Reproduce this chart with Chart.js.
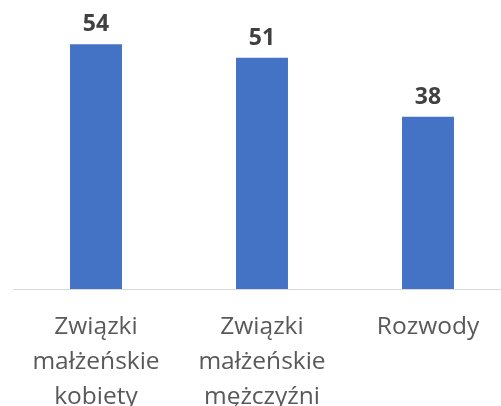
<!DOCTYPE html>
<html>
<head>
<meta charset="utf-8">
<script src="https://cdn.jsdelivr.net/npm/chart.js@4/dist/chart.umd.min.js"></script>
<style>
html,body{margin:0;padding:0;background:#fff;overflow:hidden;}
#wrap{position:relative;width:511px;height:406px;}
</style>
</head>
<body>
<div id="wrap"><canvas id="c" width="511" height="406"></canvas></div>
<script>
const categories = [
  ["Związki", "małżeńskie", "kobiety"],
  ["Związki", "małżeńskie", "mężczyźni"],
  ["Rozwody"]
];
const values = [54, 51, 38];

const labelPlugin = {
  id: 'valueLabels',
  afterDatasetsDraw(chart) {
    const ctx = chart.ctx;
    const meta = chart.getDatasetMeta(0);
    ctx.save();
    ctx.font = 'bold 23px "Open Sans"';
    ctx.fillStyle = '#404040';
    ctx.textAlign = 'center';
    ctx.textBaseline = 'alphabetic';
    meta.data.forEach((bar, i) => {
      ctx.fillText(String(values[i]), bar.x, bar.y - 13);
    });
    ctx.restore();
  }
};

new Chart(document.getElementById('c'), {
  type: 'bar',
  data: {
    labels: categories,
    datasets: [{
      data: values,
      backgroundColor: '#4472C4',
      borderWidth: 0,
      barPercentage: 0.313,
      categoryPercentage: 1
    }]
  },
  options: {
    responsive: false,
    animation: false,
    layout: { padding: { top: 17, left: 13, right: 0, bottom: 0 } },
    plugins: { legend: { display: false }, tooltip: { enabled: false } },
    scales: {
      y: { display: false, min: 0, max: 60 },
      x: {
        grid: { display: false, drawTicks: false },
        border: { display: true, color: '#d9d9d9', width: 1 },
        ticks: {
          color: '#595959',
          font: { family: '"Open Sans"', size: 24.5, lineHeight: '35px' },
          padding: 21,
          maxRotation: 0,
          autoSkip: false
        },
        afterFit(scale) { scale.height = 117; }
      }
    }
  },
  plugins: [labelPlugin]
});
</script>
</body>
</html>
